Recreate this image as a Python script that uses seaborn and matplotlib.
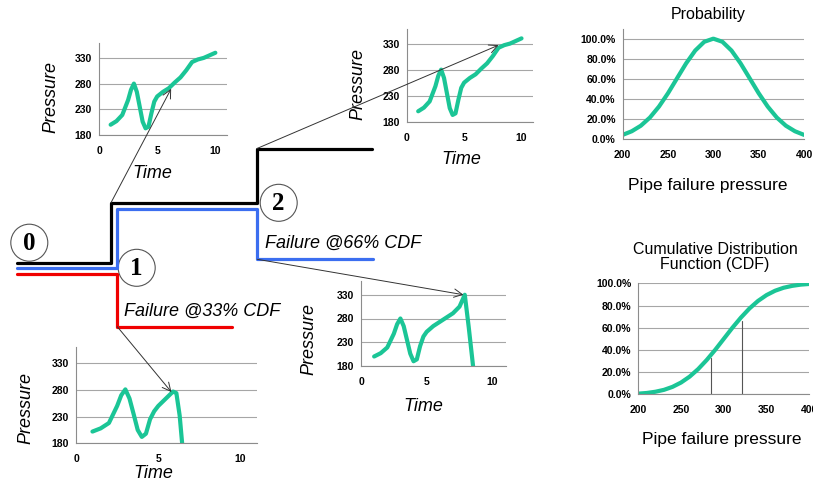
import matplotlib
matplotlib.use("Agg")
import matplotlib.pyplot as plt
from matplotlib.patches import Circle, ConnectionPatch
from matplotlib.ticker import PercentFormatter
import seaborn as sns

# ---------------- data ----------------
# pressure history, survivor (goes on to t=10)
time_full = [1, 1.5, 2, 2.5, 2.75, 3, 3.25, 3.5, 3.75, 4, 4.25, 4.5, 4.75, 5, 5.5, 6, 6.5, 7, 7.5, 8, 8.5, 9, 9.5, 10]
press_full = [200, 207, 219, 248, 268, 280, 264, 235, 206, 193, 196, 222, 245, 255, 264, 271, 282, 292, 306, 322, 327, 330, 335, 340]

# failure at 66% CDF (scenario 2)
time_f66 = [1, 1.5, 2, 2.5, 2.75, 3, 3.25, 3.5, 3.75, 4, 4.25, 4.5, 4.75, 5, 5.5, 6, 6.5, 7, 7.5, 7.9, 8.2, 8.55]
press_f66 = [200, 207, 219, 248, 268, 280, 264, 235, 206, 190, 194, 222, 242, 252, 264, 273, 282, 291, 305, 330, 262, 175]

# failure at 33% CDF (scenario 1)
time_f33 = [1, 1.5, 2, 2.5, 2.75, 3, 3.25, 3.5, 3.75, 4, 4.25, 4.5, 4.75, 5, 5.5, 5.9, 6.1, 6.3, 6.45, 6.6]
press_f33 = [202, 208, 218, 250, 270, 281, 264, 235, 205, 192, 198, 225, 240, 250, 265, 277, 274, 232, 180, 165]

# pipe failure pressure distribution
fail_pressure = [200, 210, 220, 230, 240, 250, 260, 270, 280, 290, 300, 310, 320, 330, 340, 350, 360, 370, 380, 390, 400]
probability = [0.044, 0.080, 0.135, 0.216, 0.325, 0.458, 0.607, 0.755, 0.882, 0.969, 1.0,
               0.969, 0.882, 0.755, 0.607, 0.458, 0.325, 0.216, 0.135, 0.080, 0.044]
cdf = [0.006, 0.012, 0.023, 0.040, 0.067, 0.106, 0.159, 0.227, 0.309, 0.401, 0.500,
       0.599, 0.691, 0.773, 0.841, 0.894, 0.933, 0.960, 0.977, 0.988, 0.994]
cdf_marks_x = [285, 321]
cdf_marks_y = [0.33, 0.66]

# schematic step paths (diagram units = pixels of the canvas)
black_x = [16.7, 111, 111, 257, 257, 372]
black_y = [263.3, 263.3, 202.7, 202.7, 148.5, 148.5]
blue_x = [16.7, 116.7, 116.7, 257.3, 257.3, 373]
blue_y = [268.3, 268.3, 209, 209, 259.3, 259.3]
red_x = [16.7, 117.3, 117.3, 232.3]
red_y = [274, 274, 326.7, 326.7]

node_labels = ["0", "1", "2"]
node_x = [29.3, 136.7, 278.7]
node_y = [242.7, 267.8, 202.8]

GREEN = "#1BC596"
W, H = 813, 483

sns.set_style("white")
plt.rcParams["font.family"] = ["Liberation Sans", "DejaVu Sans"]
plt.rcParams["text.color"] = "black"
plt.rcParams["axes.labelcolor"] = "black"
plt.rcParams["xtick.color"] = "black"
plt.rcParams["ytick.color"] = "black"

fig = plt.figure(figsize=(W / 100, H / 100), dpi=100)


def px_axes(l, t, r, b):
    ax = fig.add_axes([l / W, 1 - b / H, (r - l) / W, (b - t) / H])
    ax.set_facecolor("none")
    return ax


def style(ax):
    for s in ["top", "right"]:
        ax.spines[s].set_visible(False)
    for s in ["left", "bottom"]:
        ax.spines[s].set_color("#8c8c8c")
        ax.spines[s].set_linewidth(0.8)
    ax.grid(axis="y", color="#a6a6a6", lw=0.8)
    ax.grid(axis="x", visible=False)
    ax.tick_params(axis="both", labelsize=7.5, length=3, width=0.8, color="#8c8c8c",
                   labelcolor="black", pad=2)
    ax.tick_params(axis="x", pad=5)
    for lbl in ax.get_xticklabels() + ax.get_yticklabels():
        lbl.set_fontweight("bold")


def inset(l, t, r, b, tt, pp, ytop, plab, tlab):
    ax = px_axes(l, t, r, b)
    sns.lineplot(x=tt, y=pp, ax=ax, color=GREEN, linewidth=3, sort=False, estimator=None)
    ax.set_xlim(0, 11)
    ax.set_ylim(180, ytop)
    ax.set_xticks([0, 5, 10])
    ax.set_yticks([180, 230, 280, 330])
    style(ax)
    ax.set_ylabel("Pressure", fontsize=13, style="italic")
    ax.set_xlabel("Time", fontsize=13, style="italic")
    ax.yaxis.set_label_coords(*plab)
    ax.xaxis.set_label_coords(*tlab)
    return ax


axA = inset(99, 43, 227, 135, time_full, press_full, 359, (-0.31, 0.41), (0.42, -0.33))
axB = inset(406.7, 29, 533, 121.7, time_full, press_full, 358, (-0.32, 0.41), (0.435, -0.32))
axC = inset(361, 280.5, 505.5, 366, time_f66, press_f66, 360, (-0.30, 0.32), (0.43, -0.37))
axD = inset(76, 346.7, 257, 443.3, time_f33, press_f33, 361, (-0.227, 0.37), (0.427, -0.225))

# probability density
axP = px_axes(622.7, 29.3, 804, 139.3)
sns.lineplot(x=fail_pressure, y=probability, ax=axP, color=GREEN, linewidth=3)
axP.set_xlim(200, 400)
axP.set_ylim(0, 1.093)
axP.set_xticks([200, 250, 300, 350, 400])
axP.set_yticks([0, 0.2, 0.4, 0.6, 0.8, 1.0])
axP.yaxis.set_major_formatter(PercentFormatter(1.0, decimals=1))
style(axP)
axP.set_xlabel("Pipe failure pressure", fontsize=12.5)
axP.xaxis.set_label_coords(0.47, -0.35)
fig.text(708 / W, 1 - 15 / H, "Probability", ha="center", va="center", fontsize=11.5)

# CDF
axF = px_axes(638.3, 283.3, 809.3, 394.3)
sns.lineplot(x=fail_pressure, y=cdf, ax=axF, color=GREEN, linewidth=3)
for mx, my in zip(cdf_marks_x, cdf_marks_y):
    axF.plot([mx, mx], [0, my], color="#555555", lw=0.8)
axF.set_xlim(200, 400)
axF.set_ylim(0, 1.0)
axF.set_xticks([200, 250, 300, 350, 400])
axF.set_yticks([0, 0.2, 0.4, 0.6, 0.8, 1.0])
axF.yaxis.set_major_formatter(PercentFormatter(1.0, decimals=1))
style(axF)
axF.set_xlabel("Pipe failure pressure", fontsize=12.5)
axF.xaxis.set_label_coords(0.49, -0.34)
fig.text(715 / W, 1 - 257.5 / H, "Cumulative Distribution\nFunction (CDF)", ha="center",
         va="center", fontsize=11.5, linespacing=1.0)

# schematic overlay
ov = fig.add_axes([0, 0, 1, 1])
ov.set_facecolor("none")
ov.set_xlim(0, W)
ov.set_ylim(H, 0)
ov.axis("off")
ov.set_zorder(-1)
sns.lineplot(x=black_x, y=black_y, ax=ov, color="black", linewidth=2.3, sort=False, estimator=None)
sns.lineplot(x=blue_x, y=blue_y, ax=ov, color="#3B6EF0", linewidth=2.3, sort=False, estimator=None)
sns.lineplot(x=red_x, y=red_y, ax=ov, color="#F00000", linewidth=2.3, sort=False, estimator=None)
ov.set_xlim(0, W)
ov.set_ylim(H, 0)

for lab, cx, cy in zip(node_labels, node_x, node_y):
    ov.add_patch(Circle((cx, cy), 18.5, fill=False, ec="#555555", lw=0.8))
    ov.text(cx, cy + 1, lab, ha="center", va="center", fontsize=18, fontweight="bold",
            family=["Liberation Serif", "DejaVu Serif"])

ov.text(124, 311.7, "Failure @33% CDF", ha="left", va="center", fontsize=13, style="italic")
ov.text(265, 243.3, "Failure @66% CDF", ha="left", va="center", fontsize=13, style="italic")

# pointer arrows from the step diagram to the pressure histories
links = [((111, 202.7), axA, (6.2, 270)),
         ((257, 148.5), axB, (8.0, 327)),
         ((257.3, 259.3), axC, (7.8, 330)),
         ((117.3, 326.7), axD, (5.8, 276))]
for start, tax, end in links:
    con = ConnectionPatch(xyA=start, coordsA=ov.transData, xyB=end, coordsB=tax.transData,
                          arrowstyle="->,head_length=0.5,head_width=0.25", mutation_scale=12,
                          color="#333333", lw=0.7, shrinkA=0, shrinkB=0)
    fig.add_artist(con)

fig.savefig("out.png", dpi=100)
